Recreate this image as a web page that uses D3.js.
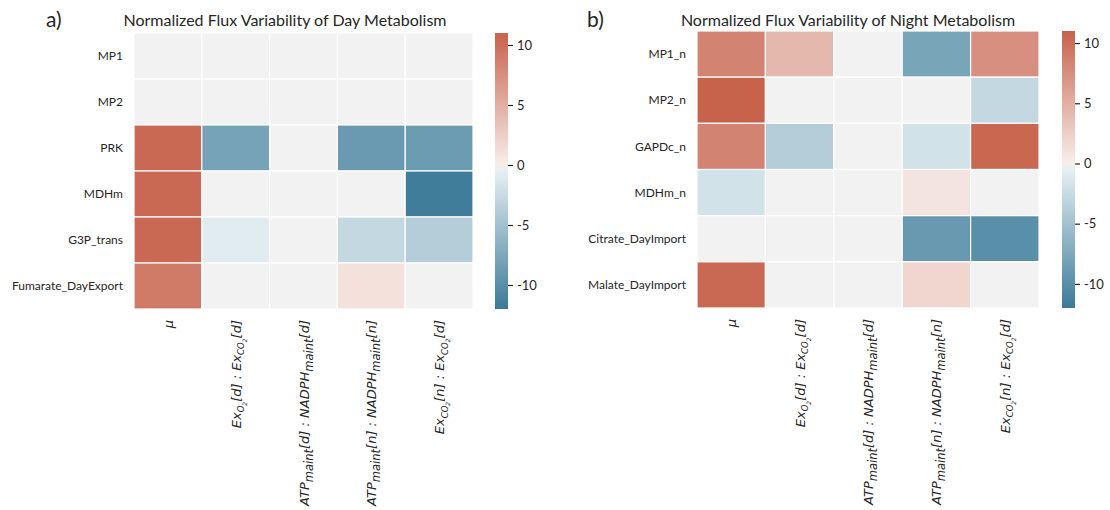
<!DOCTYPE html>
<html>
<head>
<meta charset="utf-8">
<script src="https://cdn.jsdelivr.net/npm/d3@7"></script>
<style>
  body { margin: 0; background: #fff; }
  svg text { fill: #262626; }
  .rowLabel { font-family: Lato, sans-serif; font-size: 12px; }
  .title { font-family: Lato, sans-serif; font-size: 16px; }
  .panel { font-family: Lato, sans-serif; font-size: 21px; }
  .cbarLabel { font-family: Lato, sans-serif; font-size: 13px; }
  .colLabel { font-family: "DejaVu Sans", sans-serif; font-style: italic; font-size: 13px; }
</style>
</head>
<body>
<div id="app"></div>
<script>

// column labels (mathtext style: s = 1 chemical subscript, 2 = sub-subscript, 3 = "maint" subscript)
var columns = [
  [{t: "μ"}],
  [{t: "Ex"}, {t: "O", s: 1}, {t: "2", s: 2}, {t: "[d] : Ex"}, {t: "CO", s: 1}, {t: "2", s: 2}, {t: "[d]"}],
  [{t: "ATP"}, {t: "maint", s: 3}, {t: "[d] : NADPH"}, {t: "maint", s: 3}, {t: "[d]"}],
  [{t: "ATP"}, {t: "maint", s: 3}, {t: "[n] : NADPH"}, {t: "maint", s: 3}, {t: "[n]"}],
  [{t: "Ex"}, {t: "CO", s: 1}, {t: "2", s: 2}, {t: "[n] : Ex"}, {t: "CO", s: 1}, {t: "2", s: 2}, {t: "[d]"}]
]

var rowsDay = ["MP1", "MP2", "PRK", "MDHm", "G3P_trans", "Fumarate_DayExport"]

var valuesDay = [
  [0, 0, 0, 0, 0],
  [0, 0, 0, 0, 0],
  [10.4, -8.0, 0, -8.9, -8.7],
  [10.4, 0, 0, 0, -11.7],
  [10.4, -0.8, 0, -2.8, -3.8],
  [9.0, 0, 0, 1.0, 0]
]

var rowsNight = ["MP1_n", "MP2_n", "GAPDc_n", "MDHm_n", "Citrate_DayImport", "Malate_DayImport"]

var valuesNight = [
  [8.4, 4.2, 0, -7.8, 7.4],
  [11.0, 0, 0, 0, -2.8],
  [8.4, -3.8, 0, -1.8, 10.6],
  [-1.8, 0, 0, 0.8, 0],
  [0, 0, 0, -9.0, -9.9],
  [10.4, 0, 0, 1.9, 0]
]

var cbarRange = [-12, 11]
var cbarTicks = [-10, -5, 0, 5, 10]

// seaborn diverging_palette(230, 20): blue -> light -> #f2f2f2 -> light -> red, centred on 0
var blueEnd = "#3b7a98", blueLight = "#edf4f7", mid = "#f2f2f2", redLight = "#f8eeeb", redEnd = "#c3553c"
var vrange = 12

function colour(v) {
  var t = (v + vrange) / (2 * vrange)
  if (t < 0.5) return d3.interpolateRgb(blueEnd, blueLight)(t / 0.5)
  if (t == 0.5) return mid
  return d3.interpolateRgb(redLight, redEnd)((t - 0.5) / 0.5)
}

var svg = d3.select("#app").append("svg")
  .attr("width", 1110)
  .attr("height", 510)

var defs = svg.append("defs")

function drawPanel(cfg) {

  var g = svg.append("g")

  var x = d3.scaleBand().domain(d3.range(columns.length)).range([cfg.x0, cfg.x1])
  var y = d3.scaleBand().domain(cfg.rows).range([cfg.y0, cfg.y1])

  var cells = []
  cfg.values.forEach(function(row, i) {
    row.forEach(function(v, j) {
      cells.push({row: cfg.rows[i], col: j, v: v})
    })
  })

  g.selectAll(".cell").data(cells).enter()
    .append("rect")
    .attr("class", "cell")
    .attr("x", d => x(d.col))
    .attr("y", d => y(d.row))
    .attr("width", x.bandwidth())
    .attr("height", y.bandwidth())
    .attr("fill", d => colour(d.v))
    .attr("stroke", "#fff")
    .attr("stroke-width", 1.2)

  g.selectAll(".rowLabel").data(cfg.rows).enter()
    .append("text")
    .attr("class", "rowLabel")
    .attr("x", cfg.x0 - 11)
    .attr("y", d => y(d) + y.bandwidth() / 2)
    .attr("dy", "0.35em")
    .attr("text-anchor", "end")
    .text(d => d)

  // rotated column labels with subscripts
  columns.forEach(function(segs, j) {
    var cx = x(j) + x.bandwidth() / 2 + 5
    var cy = cfg.y1 + 11
    var t = g.append("text")
      .attr("class", "colLabel")
      .attr("text-anchor", "end")
      .attr("transform", `translate(${cx},${cy}) rotate(-90)`)
    var level = 0
    var shift = {0: 0, 1: 3.5, 2: 6, 3: 4}
    var size = {0: 13, 1: 8.5, 2: 6, 3: 11.5}
    segs.forEach(function(s) {
      var lv = s.s || 0
      t.append("tspan")
        .attr("dy", shift[lv] - shift[level])
        .style("font-size", size[lv] + "px")
        .text(s.t)
      level = lv
    })
  })

  // colour bar
  var cb = d3.scaleLinear().domain(cbarRange).range([cfg.y1, cfg.y0])
  var grad = defs.append("linearGradient")
    .attr("id", cfg.id)
    .attr("x1", 0).attr("y1", 1).attr("x2", 0).attr("y2", 0)
  var steps = d3.range(0, 41).map(i => cbarRange[0] + (cbarRange[1] - cbarRange[0]) * i / 40)
  steps.forEach(function(v, i) {
    grad.append("stop")
      .attr("offset", (i / 40 * 100) + "%")
      .attr("stop-color", colour(v))
  })
  g.append("rect")
    .attr("x", cfg.cx)
    .attr("y", cfg.y0)
    .attr("width", 13)
    .attr("height", cfg.y1 - cfg.y0)
    .attr("fill", `url(#${cfg.id})`)

  var axis = d3.axisRight(cb).tickValues(cbarTicks).tickSize(5).tickPadding(4)
    .tickFormat(d => String(d))
  var ax = g.append("g")
    .attr("transform", `translate(${cfg.cx + 13},0)`)
    .call(axis)
  ax.select(".domain").remove()
  ax.selectAll("line").attr("stroke", "#262626").attr("stroke-width", 1.2)
  ax.selectAll("text").attr("class", "cbarLabel").attr("fill", "#262626")
    .style("font-family", "Lato, sans-serif").style("font-size", "13px")

  g.append("text")
    .attr("class", "title")
    .attr("x", cfg.tx)
    .attr("y", 26)
    .attr("text-anchor", "middle")
    .text(cfg.title)

  g.append("text")
    .attr("class", "panel")
    .attr("x", cfg.px)
    .attr("y", 27)
    .text(cfg.panel)
}

drawPanel({
  id: "gradDay", rows: rowsDay, values: valuesDay,
  x0: 134, x1: 473, y0: 33, y1: 309, cx: 495,
  tx: 285, px: 46, panel: "a)",
  title: "Normalized Flux Variability of Day Metabolism"
})

drawPanel({
  id: "gradNight", rows: rowsNight, values: valuesNight,
  x0: 697, x1: 1039, y0: 31, y1: 308, cx: 1062,
  tx: 848, px: 587, panel: "b)",
  title: "Normalized Flux Variability of Night Metabolism"
})

</script>
</body>
</html>
